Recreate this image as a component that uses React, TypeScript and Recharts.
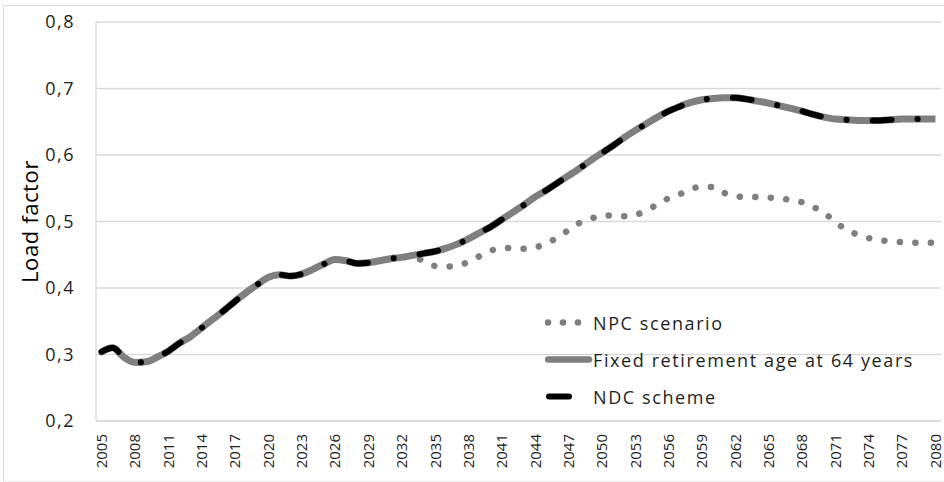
import React from 'react';
import { LineChart, Line, XAxis, YAxis, CartesianGrid, Legend } from 'recharts';

const years = [
  2005, 2006, 2007, 2008, 2009, 2010, 2011, 2012, 2013, 2014, 2015, 2016, 2017, 2018, 2019,
  2020, 2021, 2022, 2023, 2024, 2025, 2026, 2027, 2028, 2029, 2030, 2031, 2032, 2033, 2034,
  2035, 2036, 2037, 2038, 2039, 2040, 2041, 2042, 2043, 2044, 2045, 2046, 2047, 2048, 2049,
  2050, 2051, 2052, 2053, 2054, 2055, 2056, 2057, 2058, 2059, 2060, 2061, 2062, 2063, 2064,
  2065, 2066, 2067, 2068, 2069, 2070, 2071, 2072, 2073, 2074, 2075, 2076, 2077, 2078, 2079,
  2080,
];

const npcScenario = [
  0.304, 0.310, 0.296, 0.288, 0.289, 0.296, 0.305, 0.317, 0.327, 0.340, 0.353, 0.366, 0.380, 0.393, 0.405,
  0.416, 0.420, 0.418, 0.421, 0.428, 0.436, 0.443, 0.441, 0.437, 0.438, 0.441, 0.444, 0.446, 0.447, 0.440,
  0.433, 0.432, 0.434, 0.439, 0.448, 0.456, 0.460, 0.460, 0.459, 0.461, 0.467, 0.476, 0.487, 0.498, 0.504,
  0.509, 0.509, 0.508, 0.510, 0.516, 0.526, 0.535, 0.541, 0.549, 0.552, 0.552, 0.543, 0.538, 0.537, 0.537,
  0.536, 0.535, 0.532, 0.529, 0.522, 0.513, 0.499, 0.488, 0.480, 0.475, 0.472, 0.470, 0.469, 0.468, 0.468,
  0.468,
];

const fixedAge64 = [
  0.304, 0.310, 0.296, 0.288, 0.289, 0.296, 0.305, 0.317, 0.327, 0.340, 0.353, 0.366, 0.380, 0.393, 0.405,
  0.416, 0.420, 0.418, 0.421, 0.428, 0.436, 0.443, 0.441, 0.437, 0.438, 0.441, 0.444, 0.446, 0.449, 0.452,
  0.455, 0.460, 0.466, 0.474, 0.483, 0.492, 0.503, 0.514, 0.525, 0.537, 0.547, 0.558, 0.569, 0.580, 0.592,
  0.603, 0.614, 0.626, 0.637, 0.647, 0.657, 0.666, 0.673, 0.679, 0.683, 0.685, 0.686, 0.686, 0.684, 0.681,
  0.678, 0.674, 0.670, 0.666, 0.661, 0.657, 0.654, 0.653, 0.652, 0.652, 0.652, 0.653, 0.654, 0.654, 0.654,
  0.654,
];

const ndcScheme = [
  0.304, 0.310, 0.296, 0.288, 0.289, 0.296, 0.305, 0.317, 0.327, 0.340, 0.353, 0.366, 0.380, 0.393, 0.405,
  0.416, 0.420, 0.418, 0.421, 0.428, 0.436, 0.443, 0.441, 0.437, 0.438, 0.441, 0.444, 0.446, 0.449, 0.452,
  0.455, 0.460, 0.466, 0.474, 0.483, 0.492, 0.503, 0.514, 0.525, 0.537, 0.547, 0.558, 0.569, 0.580, 0.592,
  0.603, 0.614, 0.626, 0.637, 0.647, 0.657, 0.666, 0.673, 0.679, 0.683, 0.685, 0.686, 0.686, 0.684, 0.681,
  0.678, 0.674, 0.670, 0.666, 0.661, 0.657, 0.654, 0.653, 0.652, 0.652, 0.652, 0.653, 0.654, 0.654, 0.654,
  0.654,
];

const xTicks = [
  2005, 2008, 2011, 2014, 2017, 2020, 2023, 2026, 2029, 2032, 2035, 2038, 2041,
  2044, 2047, 2050, 2053, 2056, 2059, 2062, 2065, 2068, 2071, 2074, 2077, 2080,
];
const yTicks = [0.2, 0.3, 0.4, 0.5, 0.6, 0.7, 0.8];

const seriesNames = ['NPC scenario', 'Fixed retirement age at 64 years', 'NDC scheme'];

const data = years.map((year, i) => ({
  year,
  npc: npcScenario[i],
  fixed: fixedAge64[i],
  ndc: ndcScheme[i],
}));

const FONT = '"Open Sans", sans-serif';
const TEXT = '#1e1e1e';
const GRID = '#d9d9d9';
const GREY = '#7f7f7f';

const YearTick = (props: any) => {
  const { x, y, payload } = props;
  return (
    <text
      x={x}
      y={y}
      transform={`rotate(-90 ${x} ${y})`}
      textAnchor="end"
      dy="0.36em"
      fill={TEXT}
      fontSize={15}
      fontFamily={FONT}
    >
      {payload.value}
    </text>
  );
};

const LegendIcon = ({ index }: { index: number }) => {
  if (index === 0) {
    return (
      <svg width={48} height={37}>
        {[3, 18, 33].map((cx) => (
          <circle key={cx} cx={cx} cy={18.5} r={3.3} fill={GREY} />
        ))}
      </svg>
    );
  }
  if (index === 1) {
    return (
      <svg width={48} height={37}>
        <line x1={3} y1={18.5} x2={44} y2={18.5} stroke={GREY} strokeWidth={6.5} strokeLinecap="round" />
      </svg>
    );
  }
  return (
    <svg width={48} height={37}>
      <line x1={4} y1={18.5} x2={24} y2={18.5} stroke="#000" strokeWidth={6} strokeLinecap="round" />
    </svg>
  );
};

const ChartLegend = () => (
  <div>
    {seriesNames.map((name, i) => (
      <div key={name} style={{ display: 'flex', alignItems: 'center', height: 37 }}>
        <LegendIcon index={i} />
        <span
          style={{
            fontFamily: FONT,
            fontSize: 18,
            letterSpacing: 1.6,
            color: TEXT,
            whiteSpace: 'nowrap',
          }}
        >
          {name}
        </span>
      </div>
    ))}
  </div>
);

export default function App() {
  return (
    <div
      style={{
        position: 'absolute',
        left: 0,
        top: 0,
        width: 944,
        height: 482,
        background: '#fff',
      }}
    >
      <div
        style={{
          position: 'absolute',
          left: 3,
          top: 5,
          width: 941,
          height: 475,
          borderLeft: `1px solid ${GRID}`,
          borderTop: `1px solid ${GRID}`,
          borderBottom: `1px solid #ececec`,
        }}
      />
      <LineChart
        width={944}
        height={482}
        data={data}
        margin={{ top: 22, right: 3, bottom: 0, left: 0 }}
        style={{ position: 'absolute', left: 0, top: 0 }}
      >
        <CartesianGrid vertical={false} stroke={GRID} strokeWidth={1.3} />
        <XAxis
          dataKey="year"
          type="number"
          domain={[2004.5, 2080.5]}
          ticks={xTicks}
          interval={0}
          height={61}
          tickLine={false}
          tickSize={0}
          tickMargin={13}
          axisLine={{ stroke: GRID, strokeWidth: 1.3 }}
          tick={<YearTick />}
        />
        <YAxis
          domain={[0.2, 0.8]}
          ticks={yTicks}
          width={96}
          tickLine={false}
          tickSize={0}
          tickMargin={21}
          axisLine={{ stroke: GRID, strokeWidth: 1.3 }}
          tickFormatter={(v: number) => v.toFixed(1).replace('.', ',')}
          tick={{ fill: TEXT, fontSize: 18, fontFamily: FONT, letterSpacing: 1.5 }}
          label={{
            content: (props: any) => {
              const vb = props.viewBox || {};
              const cy = (vb.y ?? 22) + (vb.height ?? 399) / 2;
              return (
                <text
                  x={38}
                  y={cy}
                  transform={`rotate(-90 38 ${cy})`}
                  textAnchor="middle"
                  fill="#000"
                  fontSize={22}
                  fontFamily={FONT}
                  letterSpacing={0.6}
                >
                  Load factor
                </text>
              );
            },
          }}
        />
        <Legend
          layout="vertical"
          align="center"
          verticalAlign="middle"
          content={<ChartLegend />}
          wrapperStyle={{ left: 545, top: 304, width: 390, height: 111 }}
        />
        <Line
          type="monotone"
          dataKey="npc"
          name={seriesNames[0]}
          stroke={GREY}
          strokeWidth={6.5}
          strokeDasharray="0.1 15.4"
          strokeLinecap="round"
          dot={false}
          activeDot={false}
          isAnimationActive={false}
        />
        <Line
          type="monotone"
          dataKey="fixed"
          name={seriesNames[1]}
          stroke={GREY}
          strokeWidth={7}
          dot={false}
          activeDot={false}
          isAnimationActive={false}
        />
        <Line
          type="monotone"
          dataKey="ndc"
          name={seriesNames[2]}
          stroke="#000"
          strokeWidth={6}
          strokeDasharray="19 26 0.1 26"
          strokeLinecap="round"
          dot={false}
          activeDot={false}
          isAnimationActive={false}
        />
      </LineChart>
    </div>
  );
}
